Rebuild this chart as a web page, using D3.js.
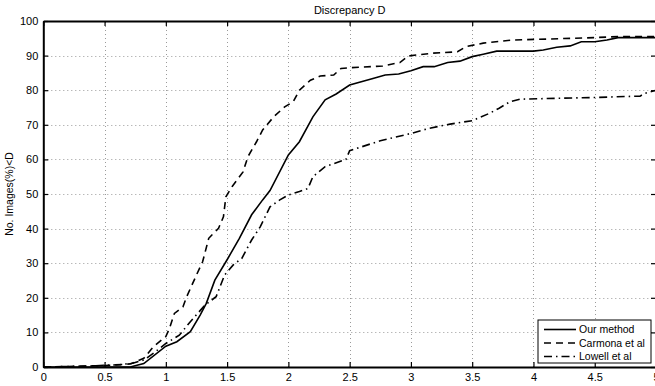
<!DOCTYPE html>
<html>
<head>
<meta charset="utf-8">
<script src="https://cdn.jsdelivr.net/npm/d3@7"></script>
<style>
  html, body { margin: 0; padding: 0; background: #fff; }
  svg { display: block; font-family: "Liberation Sans", Arial, sans-serif; }
</style>
</head>
<body>
<div id="chart"></div>
<script>
// tick values
const xTicks = [0, 0.5, 1, 1.5, 2, 2.5, 3, 3.5, 4, 4.5, 5];
const yTicks = [0, 10, 20, 30, 40, 50, 60, 70, 80, 90, 100];

// series: [discrepancy, % images]
const ourMethod = [
  [0, 0], [0.71, 0], [0.82, 1], [1.0, 6], [1.09, 7.3], [1.2, 10.2], [1.28, 15],
  [1.33, 18.4], [1.4, 25.1], [1.5, 31], [1.6, 37.2], [1.7, 44], [1.79, 48.3],
  [1.85, 51], [2.0, 61.3], [2.09, 65.1], [2.2, 72.3], [2.3, 77.2], [2.39, 78.9],
  [2.5, 81.5], [2.69, 83.4], [2.79, 84.4], [2.9, 84.7], [3.0, 85.6], [3.1, 86.8],
  [3.19, 86.8], [3.3, 88], [3.4, 88.4], [3.5, 89.7], [3.59, 90.4], [3.7, 91.3],
  [4.0, 91.3], [4.08, 91.6], [4.19, 92.4], [4.3, 92.8], [4.39, 94], [4.5, 94],
  [4.6, 94.5], [4.69, 95.2], [5.0, 95.2]
];
const carmona = [
  [0, 0], [0.5, 0.4], [0.71, 0.9], [0.82, 2.5], [0.9, 5.9], [1.0, 8.8], [1.03, 11.2],
  [1.07, 15.5], [1.14, 17.4], [1.17, 20.3], [1.25, 26.6], [1.3, 30.4], [1.35, 37.2],
  [1.43, 40.1], [1.47, 43.4], [1.49, 49.2], [1.54, 52.1], [1.63, 56.4], [1.67, 60.8],
  [1.74, 65.1], [1.79, 68.5], [1.88, 72.3], [1.97, 75.2], [2.04, 76.7], [2.09, 80],
  [2.18, 82.9], [2.26, 84.1], [2.37, 84.4], [2.43, 86.3], [2.5, 86.5], [2.77, 87],
  [2.91, 88], [2.98, 89.9], [3.18, 90.7], [3.38, 91.1], [3.45, 92.6], [3.59, 93.6],
  [3.83, 94.5], [4.13, 94.8], [4.5, 95.2], [4.7, 95.5], [5.0, 95.5]
];
const lowell = [
  [0, 0], [0.4, 0.3], [0.63, 0.7], [0.73, 1.1], [0.82, 2], [0.9, 4], [1.0, 6.8],
  [1.11, 9.2], [1.2, 13.1], [1.32, 17.9], [1.41, 20.3], [1.48, 26.6], [1.55, 29.5],
  [1.62, 31.4], [1.7, 36.7], [1.77, 40.5], [1.85, 46.3], [1.93, 48.3], [2.0, 49.7],
  [2.09, 50.7], [2.16, 51.6], [2.2, 55], [2.3, 57.9], [2.47, 60], [2.5, 62.5],
  [2.75, 65.4], [3.0, 67.5], [3.15, 69], [3.32, 70.2], [3.5, 71.2], [3.64, 73.3],
  [3.72, 74.8], [3.81, 76.7], [3.89, 77.4], [4.24, 77.7], [4.5, 77.9], [4.87, 78.3],
  [4.91, 79.1], [5.0, 80]
];

const seriesNames = ["Our method", "Carmona et al", "Lowell et al"];
const seriesData = [ourMethod, carmona, lowell];
const dashes = [null, "7,5", "8,4,1.5,4"];

const width = 655, height = 386;
const margin = { left: 43.3, right: -1, top: 21, bottom: 19 };

const svg = d3.select("#chart").append("svg")
  .attr("width", width)
  .attr("height", height);

const x = d3.scaleLinear().domain([0, 5]).range([margin.left, width - margin.right]);
const y = d3.scaleLinear().domain([0, 100]).range([height - margin.bottom, margin.top]);

// grid
const grid = svg.append("g")
  .attr("stroke", "#9a9a9a")
  .attr("stroke-width", 1)
  .attr("stroke-dasharray", "1,3");
grid.selectAll(".gx").data(xTicks.slice(1, -1)).enter().append("line")
  .attr("x1", d => Math.round(x(d)) + 0.5).attr("x2", d => Math.round(x(d)) + 0.5)
  .attr("y1", y(0)).attr("y2", y(100));
grid.selectAll(".gy").data(yTicks.slice(1, -1)).enter().append("line")
  .attr("y1", d => Math.round(y(d)) + 0.5).attr("y2", d => Math.round(y(d)) + 0.5)
  .attr("x1", x(0)).attr("x2", x(5));

// lines
const line = d3.line().x(d => x(d[0])).y(d => y(d[1]));
svg.append("g").selectAll("path").data(seriesData).enter().append("path")
  .attr("d", line)
  .attr("fill", "none")
  .attr("stroke", "#000")
  .attr("stroke-width", 1.6)
  .attr("stroke-dasharray", (d, i) => dashes[i]);

// axes (MATLAB style: inward ticks)
const fmt = d => String(d);
const axB = svg.append("g").attr("transform", `translate(0,${y(0)})`)
  .call(d3.axisBottom(x).tickValues(xTicks).tickFormat(fmt).tickSizeInner(-5).tickSizeOuter(0).tickPadding(6));
const axL = svg.append("g").attr("transform", `translate(${x(0)},0)`)
  .call(d3.axisLeft(y).tickValues(yTicks).tickFormat(fmt).tickSizeInner(-5).tickSizeOuter(0).tickPadding(5));
const axT = svg.append("g").attr("transform", `translate(0,${y(100)})`)
  .call(d3.axisTop(x).tickValues(xTicks).tickSizeInner(-5).tickSizeOuter(0).tickFormat(""));
const axR = svg.append("g").attr("transform", `translate(${x(5)},0)`)
  .call(d3.axisRight(y).tickValues(yTicks).tickSizeInner(-5).tickSizeOuter(0).tickFormat(""));

[axB, axL, axT, axR].forEach(a => {
  a.selectAll("path").attr("stroke", "#000").attr("stroke-width", 2);
  a.selectAll("line").attr("stroke", "#000").attr("stroke-width", 1.2);
  a.selectAll("text").attr("fill", "#000").style("font-size", "11px")
    .style("font-family", "'Liberation Sans', Arial, sans-serif");
});

// title and y label
svg.append("text")
  .attr("x", (x(0) + x(5)) / 2)
  .attr("y", 14)
  .attr("text-anchor", "middle")
  .style("font-size", "11px")
  .text("Discrepancy D");

svg.append("text")
  .attr("transform", `translate(13,${y(50)}) rotate(-90)`)
  .attr("text-anchor", "middle")
  .style("font-size", "10.5px")
  .text("No. Images(%)<D");

// legend
const legend = svg.append("g").attr("transform", "translate(538,320)");
legend.append("rect")
  .attr("width", 113).attr("height", 43)
  .attr("fill", "#fff").attr("stroke", "#000").attr("stroke-width", 1);
const items = legend.selectAll(".item").data(seriesNames).enter().append("g")
  .attr("transform", (d, i) => `translate(0,${9.5 + i * 13.5})`);
items.append("line")
  .attr("x1", 6).attr("x2", 38).attr("y1", 0).attr("y2", 0)
  .attr("stroke", "#000").attr("stroke-width", 1.6)
  .attr("stroke-dasharray", (d, i) => dashes[i]);
items.append("text")
  .attr("x", 41).attr("y", 0).attr("dy", "0.35em")
  .style("font-size", "10.5px")
  .text(d => d);
</script>
</body>
</html>
